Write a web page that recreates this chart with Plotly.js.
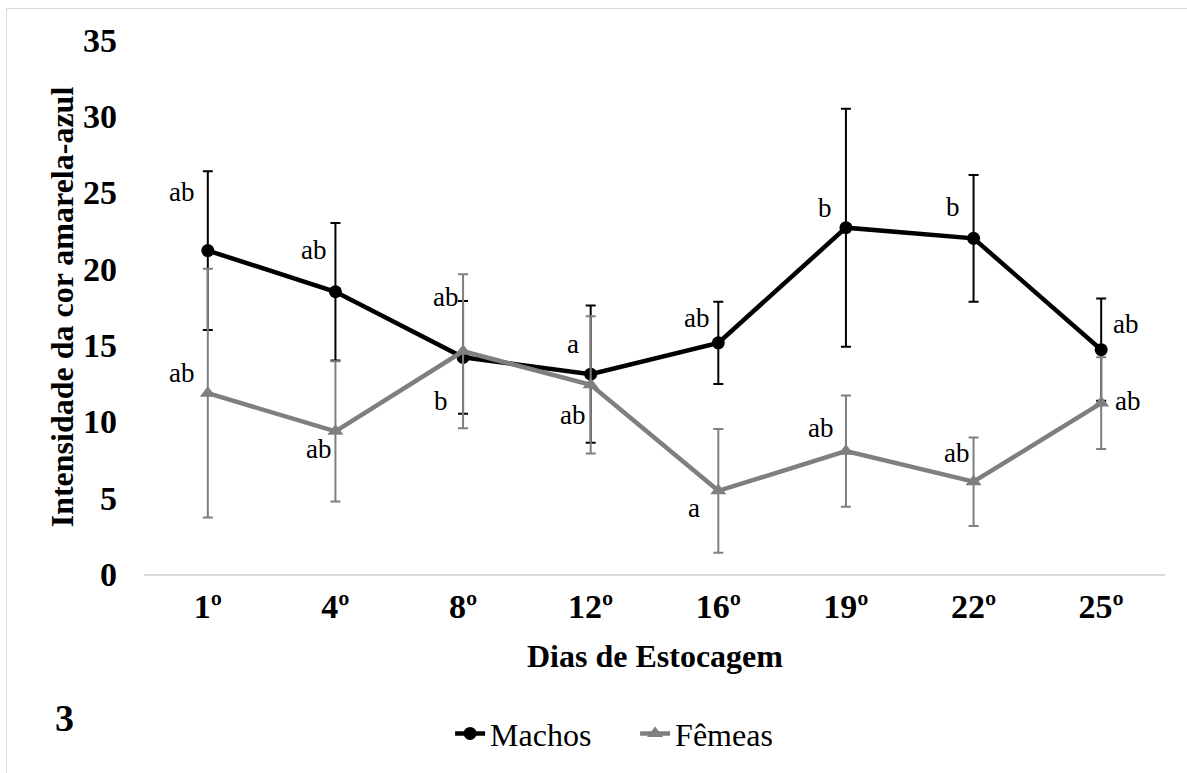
<!DOCTYPE html>
<html>
<head>
<meta charset="utf-8">
<script src="https://cdn.plot.ly/plotly-3.0.1.min.js"></script>
<style>
  html, body { margin: 0; padding: 0; background: #fff; overflow: hidden; }
  #chart { width: 1187px; height: 773px; position: absolute; left: 0; top: 0; }
  #frame { position: absolute; left: 6px; top: 8px; width: 2000px; height: 2000px;
           border-left: 1.5px solid #d9d9d9; border-top: 1.5px solid #d9d9d9; pointer-events: none; }
</style>
</head>
<body>
<div id="chart"></div>
<div id="frame"></div>
<script>
// ---- data ----
const dias = ["1º", "4º", "8º", "12º", "16º", "19º", "22º", "25º"];
const machos = [21.2, 18.5, 14.2, 13.1, 15.15, 22.7, 22.0, 14.7];
const machosErr = [5.2, 4.5, 3.7, 4.5, 2.7, 7.8, 4.15, 3.35];
const femeas = [11.85, 9.35, 14.6, 12.4, 5.45, 8.05, 6.05, 11.2];
const femeasErr = [8.15, 4.6, 5.05, 4.5, 4.05, 3.65, 2.9, 3.0];
const machosLetras = ["ab", "ab", "ab", "a", "ab", "b", "b", "ab"];
const femeasLetras = ["ab", "ab", "b", "ab", "a", "ab", "ab", "ab"];

// ---- label placement (pixel offsets from each point) ----
const machosOff = [[-26, 59], [-22, 42], [-18, 60], [-18, 30], [-22, 25], [-21, 20], [-21, 31], [24, 26]];
const femeasOff = [[-26, 20], [-17, -18], [-22, -50], [-18, -30], [-24, -17], [-25, 23], [-17, 29], [26, 2]];

const FONT = "Liberation Serif, Times New Roman, serif";
const BLACK = "#000000";
const GRAY = "#7f7f7f";

const traces = [
  {
    x: dias, y: machos, name: "Machos", type: "scatter", mode: "lines+markers",
    line: { color: BLACK, width: 4.5 },
    marker: { symbol: "circle", size: 13, color: BLACK },
    error_y: { type: "data", array: machosErr, visible: true, color: BLACK, thickness: 2, width: 5 }
  },
  {
    x: dias, y: femeas, name: "Fêmeas", type: "scatter", mode: "lines+markers",
    line: { color: GRAY, width: 4.5 },
    marker: { symbol: "triangle-up", size: 14, color: GRAY },
    error_y: { type: "data", array: femeasErr, visible: true, color: GRAY, thickness: 2, width: 5 }
  }
];

const annotations = [];
dias.forEach((d, i) => {
  annotations.push({
    x: d, y: machos[i], xref: "x", yref: "y", text: machosLetras[i], showarrow: false,
    xshift: machosOff[i][0], yshift: machosOff[i][1],
    font: { family: FONT, size: 27, color: BLACK }
  });
  annotations.push({
    x: d, y: femeas[i], xref: "x", yref: "y", text: femeasLetras[i], showarrow: false,
    xshift: femeasOff[i][0], yshift: femeasOff[i][1],
    font: { family: FONT, size: 27, color: BLACK }
  });
});
annotations.push({
  xref: "paper", yref: "paper", x: -0.08, y: 0.5, xanchor: "center", yanchor: "middle",
  text: "Intensidade da cor amarela-azul", textangle: -90, showarrow: false,
  font: { family: FONT, size: 32, color: BLACK, weight: "bold" }
});
annotations.push({
  xref: "paper", yref: "paper", x: 0.5, y: -0.153, xanchor: "center", yanchor: "middle",
  text: "Dias de Estocagem", showarrow: false,
  font: { family: FONT, size: 32, color: BLACK, weight: "bold" }
});
annotations.push({
  xref: "paper", yref: "paper", x: -0.078, y: -0.27, xanchor: "center", yanchor: "middle",
  text: "3", showarrow: false,
  font: { family: FONT, size: 38, color: BLACK, weight: "bold" }
});

const layout = {
  width: 1187, height: 773,
  margin: { l: 144, r: 22, t: 40, b: 194 },
  paper_bgcolor: "#ffffff", plot_bgcolor: "#ffffff",
  showlegend: true,
  legend: {
    orientation: "h", x: 0.481, xanchor: "center", y: -0.299, yanchor: "middle",
    entrywidth: 140, entrywidthmode: "pixels",
    font: { family: FONT, size: 32, color: BLACK }, bgcolor: "rgba(0,0,0,0)"
  },
  xaxis: {
    type: "category", range: [-0.5, 7.5],
    showline: true, linecolor: "#d9d9d9", linewidth: 1.5,
    showgrid: false, zeroline: false, ticks: "",
    ticklabelstandoff: 2,
    tickfont: { family: FONT, size: 34, color: BLACK, weight: "bold" }
  },
  yaxis: {
    range: [0, 35], dtick: 5, tick0: 0,
    showline: false, showgrid: false, zeroline: false, ticks: "",
    ticklabelstandoff: 26,
    tickfont: { family: FONT, size: 34, color: BLACK, weight: "bold" }
  },
  annotations: annotations
};

Plotly.newPlot("chart", traces, layout, { displayModeBar: false, staticPlot: true });
</script>
</body>
</html>
